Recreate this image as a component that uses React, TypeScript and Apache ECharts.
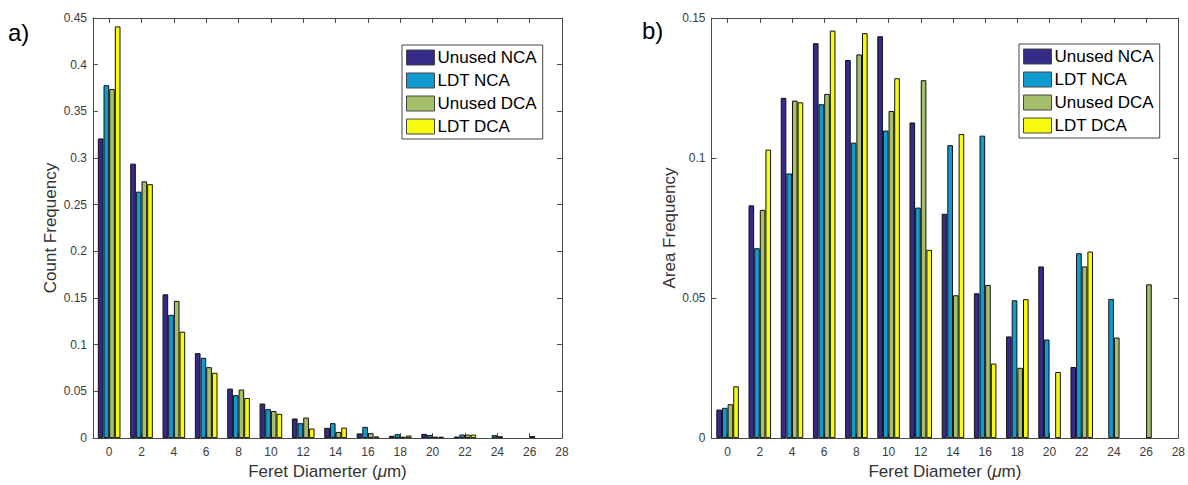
import React, { useEffect, useRef } from "react";
import * as echarts from "echarts";

// Feret diameter bin centres (µm)
const diameters = [0, 2, 4, 6, 8, 10, 12, 14, 16, 18, 20, 22, 24, 26];
const xTickValues = [0, 2, 4, 6, 8, 10, 12, 14, 16, 18, 20, 22, 24, 26, 28];
const seriesNames = ["Unused NCA", "LDT NCA", "Unused DCA", "LDT DCA"];
const colors = ["#352A87", "#0F9BD0", "#A5BE6A", "#F9FB0E"];

// a) Count frequency
const unusedNCACount = [0.321, 0.294, 0.154, 0.091, 0.053, 0.037, 0.021, 0.011, 0.005, 0.0025, 0.0045, 0.0016, 0, 0];
const ldtNCACount = [0.378, 0.264, 0.132, 0.086, 0.046, 0.031, 0.016, 0.016, 0.012, 0.0042, 0.0033, 0.0038, 0.0032, 0];
const unusedDCACount = [0.374, 0.275, 0.147, 0.076, 0.052, 0.029, 0.022, 0.0066, 0.0053, 0.0014, 0.0015, 0.0037, 0.002, 0.0022];
const ldtDCACount = [0.441, 0.272, 0.114, 0.07, 0.043, 0.026, 0.0103, 0.0112, 0.0018, 0.0028, 0.0015, 0.0037, 0, 0];

// b) Area frequency
const unusedNCAArea = [0.0102, 0.0831, 0.1215, 0.141, 0.135, 0.1435, 0.1127, 0.0801, 0.0517, 0.0363, 0.0613, 0.0254, 0, 0];
const ldtNCAArea = [0.0108, 0.0678, 0.0945, 0.1192, 0.1055, 0.1098, 0.0823, 0.1046, 0.108, 0.0492, 0.0352, 0.066, 0.0497, 0];
const unusedDCAArea = [0.0121, 0.0815, 0.1205, 0.1229, 0.137, 0.1168, 0.1278, 0.051, 0.0547, 0.0251, 0, 0.0613, 0.0359, 0.0549];
const ldtDCAArea = [0.0185, 0.103, 0.1199, 0.1455, 0.1446, 0.1285, 0.0672, 0.1086, 0.0266, 0.0496, 0.0236, 0.0666, 0, 0];

const countSets = [unusedNCACount, ldtNCACount, unusedDCACount, ldtDCACount];
const areaSets = [unusedNCAArea, ldtNCAArea, unusedDCAArea, ldtDCAArea];

const FONT = 'Arial, "Liberation Sans", Helvetica, sans-serif';
const AXIS_COLOR = "#4a4a4a";

function xAxisCfg(gridIndex: number, position: "bottom" | "top", name?: string) {
  const bottom = position === "bottom";
  return {
    type: "value",
    gridIndex,
    position,
    min: -1,
    max: 28,
    splitNumber: 15,
    axisLine: { show: true, onZero: false, lineStyle: { color: AXIS_COLOR, width: 1 } },
    axisTick: { show: true, inside: true, length: 5, customValues: xTickValues, lineStyle: { color: AXIS_COLOR } },
    axisLabel: {
      show: bottom,
      customValues: xTickValues,
      fontFamily: FONT,
      fontSize: 12,
      color: "#3a3a3a",
      margin: 8,
    },
    splitLine: { show: false },
    name: bottom ? name : undefined,
    nameLocation: "middle",
    nameGap: 24,
    nameTextStyle: {
      fontFamily: FONT,
      fontSize: 17,
      color: "#333",
      rich: { i: { fontFamily: FONT, fontSize: 17, color: "#333", fontStyle: "italic" } },
    },
  };
}

function yAxisCfg(gridIndex: number, position: "left" | "right", max: number, name?: string) {
  const left = position === "left";
  return {
    type: "value",
    gridIndex,
    position,
    min: 0,
    max,
    interval: 0.05,
    axisLine: { show: true, onZero: false, lineStyle: { color: AXIS_COLOR, width: 1 } },
    axisTick: { show: true, inside: true, length: 5, lineStyle: { color: AXIS_COLOR } },
    axisLabel: { show: left, fontFamily: FONT, fontSize: 12, color: "#3a3a3a", margin: 6 },
    splitLine: { show: false },
    name: left ? name : undefined,
    nameLocation: "middle",
    nameGap: 34,
    nameTextStyle: { fontFamily: FONT, fontSize: 17, color: "#333" },
  };
}

function barSeries(sets: number[][], axisIndex: number) {
  return sets.map((vals, k) => ({
    type: "bar",
    name: seriesNames[k],
    xAxisIndex: axisIndex,
    yAxisIndex: axisIndex,
    data: diameters.map((d, i) => [d, vals[i] === 0 ? "-" : vals[i]]),
    barWidth: "17.5%",
    barGap: "0%",
    itemStyle: { color: colors[k], borderColor: "#111", borderWidth: 1 },
    emphasis: { disabled: true },
    silent: true,
  }));
}

function legendCfg(left: number, top: number) {
  return {
    show: true,
    left,
    top,
    orient: "vertical",
    data: seriesNames,
    icon: "rect",
    itemWidth: 28,
    itemHeight: 15,
    itemGap: 6,
    padding: [4, 6, 4, 4],
    backgroundColor: "#fff",
    borderColor: "#444",
    borderWidth: 1,
    borderRadius: 0,
    selectedMode: false,
    itemStyle: { borderColor: "#444", borderWidth: 1 },
    textStyle: { fontFamily: FONT, fontSize: 17, color: "#000", padding: [0, 0, 0, -2] },
  };
}

export default function App() {
  const ref = useRef<HTMLDivElement>(null);

  useEffect(() => {
    if (!ref.current) return;
    const chart = echarts.init(ref.current, undefined, { renderer: "svg" });
    chart.setOption({
      animation: false,
      backgroundColor: "#fff",
      grid: [
        { left: 93, top: 18, width: 469, height: 424 },
        { left: 711.5, top: 18, width: 467, height: 424.5 },
      ],
      xAxis: [
        xAxisCfg(0, "bottom", "Feret Diamerter ({i|μ}m)"),
        xAxisCfg(1, "bottom", "Feret Diameter ({i|μ}m)"),
        xAxisCfg(0, "top"),
        xAxisCfg(1, "top"),
      ],
      yAxis: [
        yAxisCfg(0, "left", 0.45, "Count Frequency"),
        yAxisCfg(1, "left", 0.15, "Area Frequency"),
        yAxisCfg(0, "right", 0.45),
        yAxisCfg(1, "right", 0.15),
      ],
      legend: [legendCfg(402, 45), legendCfg(1019, 44)],
      series: [...barSeries(countSets, 0), ...barSeries(areaSets, 1)],
      graphic: [
        { type: "text", left: 8, top: 20, style: { text: "a)", font: `24px ${FONT}`, fill: "#000" } },
        { type: "text", left: 642, top: 18, style: { text: "b)", font: `24px ${FONT}`, fill: "#000" } },
      ],
    });
    return () => chart.dispose();
  }, []);

  return (
    <div
      ref={ref}
      style={{ position: "fixed", left: 0, top: 0, width: 1188, height: 485, background: "#fff" }}
    />
  );
}
